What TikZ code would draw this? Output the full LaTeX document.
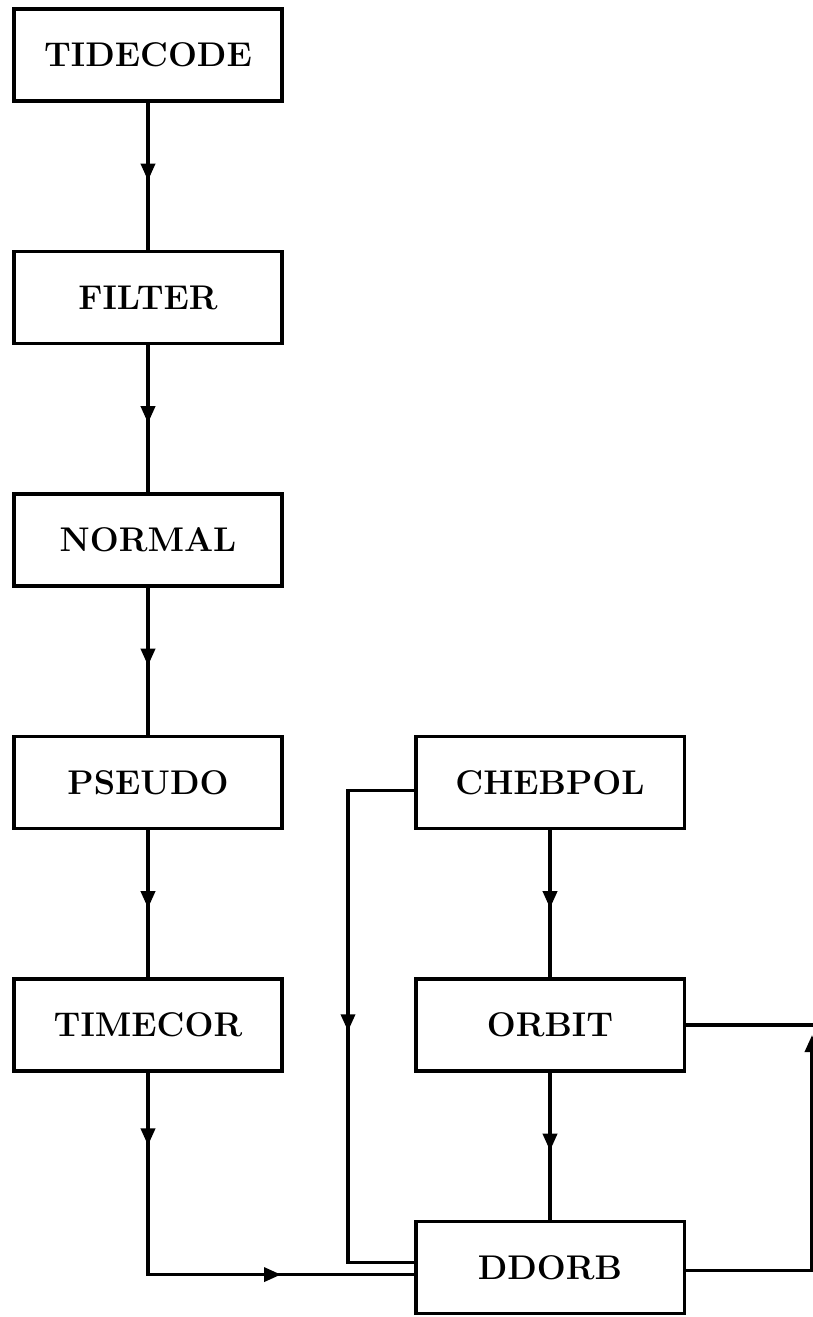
\documentclass[tikz,border=0pt]{standalone}
\usepackage{tikz}
\usetikzlibrary{positioning,arrows.meta,decorations.markings}
\tikzset{
    module/.style={draw,line width=2pt,minimum width=5.37cm,minimum height=1.84cm,inner sep=2pt,
        font=\fontsize{19.5}{23}\selectfont\bfseries},
    flow/.style={draw,line width=2pt,line cap=rect},
    every edge/.style={flow},
    midarrow/.style={flow,postaction={decorate},
        decoration={markings,mark=at position #1 with {\arrow{Triangle[length=3.4mm,width=2.8mm]}}}},
    midarrow/.default=0.53,
}

\begin{document}
\begin{tikzpicture}[node distance=2.94cm]
    \useasboundingbox (0,0) rectangle (16.26,-26.34);

    % main chain
    \node[module] (tidecode) at (2.96,-1.1) {TIDECODE};
    \node[module,below=of tidecode] (filter) {FILTER};
    \node[module,below=of filter] (normal) {NORMAL};
    \node[module,below=of normal] (pseudo) {PSEUDO};
    \node[module,below=of pseudo] (timecor) {TIMECOR};

    % orbit branch
    \node[module,right=2.6cm of pseudo] (chebpol) {CHEBPOL};
    \node[module,below=of chebpol] (orbit) {ORBIT};
    \node[module,below=of orbit] (ddorb) {DDORB};

    \coordinate (rim) at (16.24,0);
    \coordinate (tcbend) at ([yshift=-0.14cm]ddorb.west -| timecor.south);
    \coordinate (tcin) at ([yshift=-0.14cm]ddorb.west);
    \coordinate (cbleft) at ([xshift=-1.32cm,yshift=-0.16cm]chebpol.west);
    \coordinate (cbout) at ([yshift=-0.16cm]chebpol.west);
    \coordinate (cbbend) at ([yshift=0.1cm]ddorb.west -| cbleft);
    \coordinate (cbin) at ([yshift=0.1cm]ddorb.west);
    \coordinate (orbout) at (orbit.east -| rim);
    \coordinate (fbcorner) at ([yshift=-0.06cm]ddorb.east -| rim);
    \coordinate (fbout) at ([yshift=-0.06cm]ddorb.east);
    \coordinate (fbtip) at ([yshift=-0.2cm]orbit.east -| rim);

    \path
    (tidecode) edge[midarrow] (filter)
    (filter) edge[midarrow] (normal)
    (normal) edge[midarrow] (pseudo)
    (pseudo) edge[midarrow] (timecor)
    (chebpol) edge[midarrow] (orbit)
    (orbit) edge[midarrow] (ddorb)
    (timecor) edge[midarrow=0.36] (tcbend)
    (tcbend) edge[midarrow=0.5] (tcin)
    (cbout) edge (cbleft)
    (cbleft) edge[midarrow=0.51] (cbbend)
    (cbbend) edge (cbin)
    (orbit) edge (orbout);

    \draw[flow,-{Triangle[length=3.4mm,width=2.8mm]}] (fbout) -- (fbcorner) -- (fbtip);
\end{tikzpicture}
\end{document}
